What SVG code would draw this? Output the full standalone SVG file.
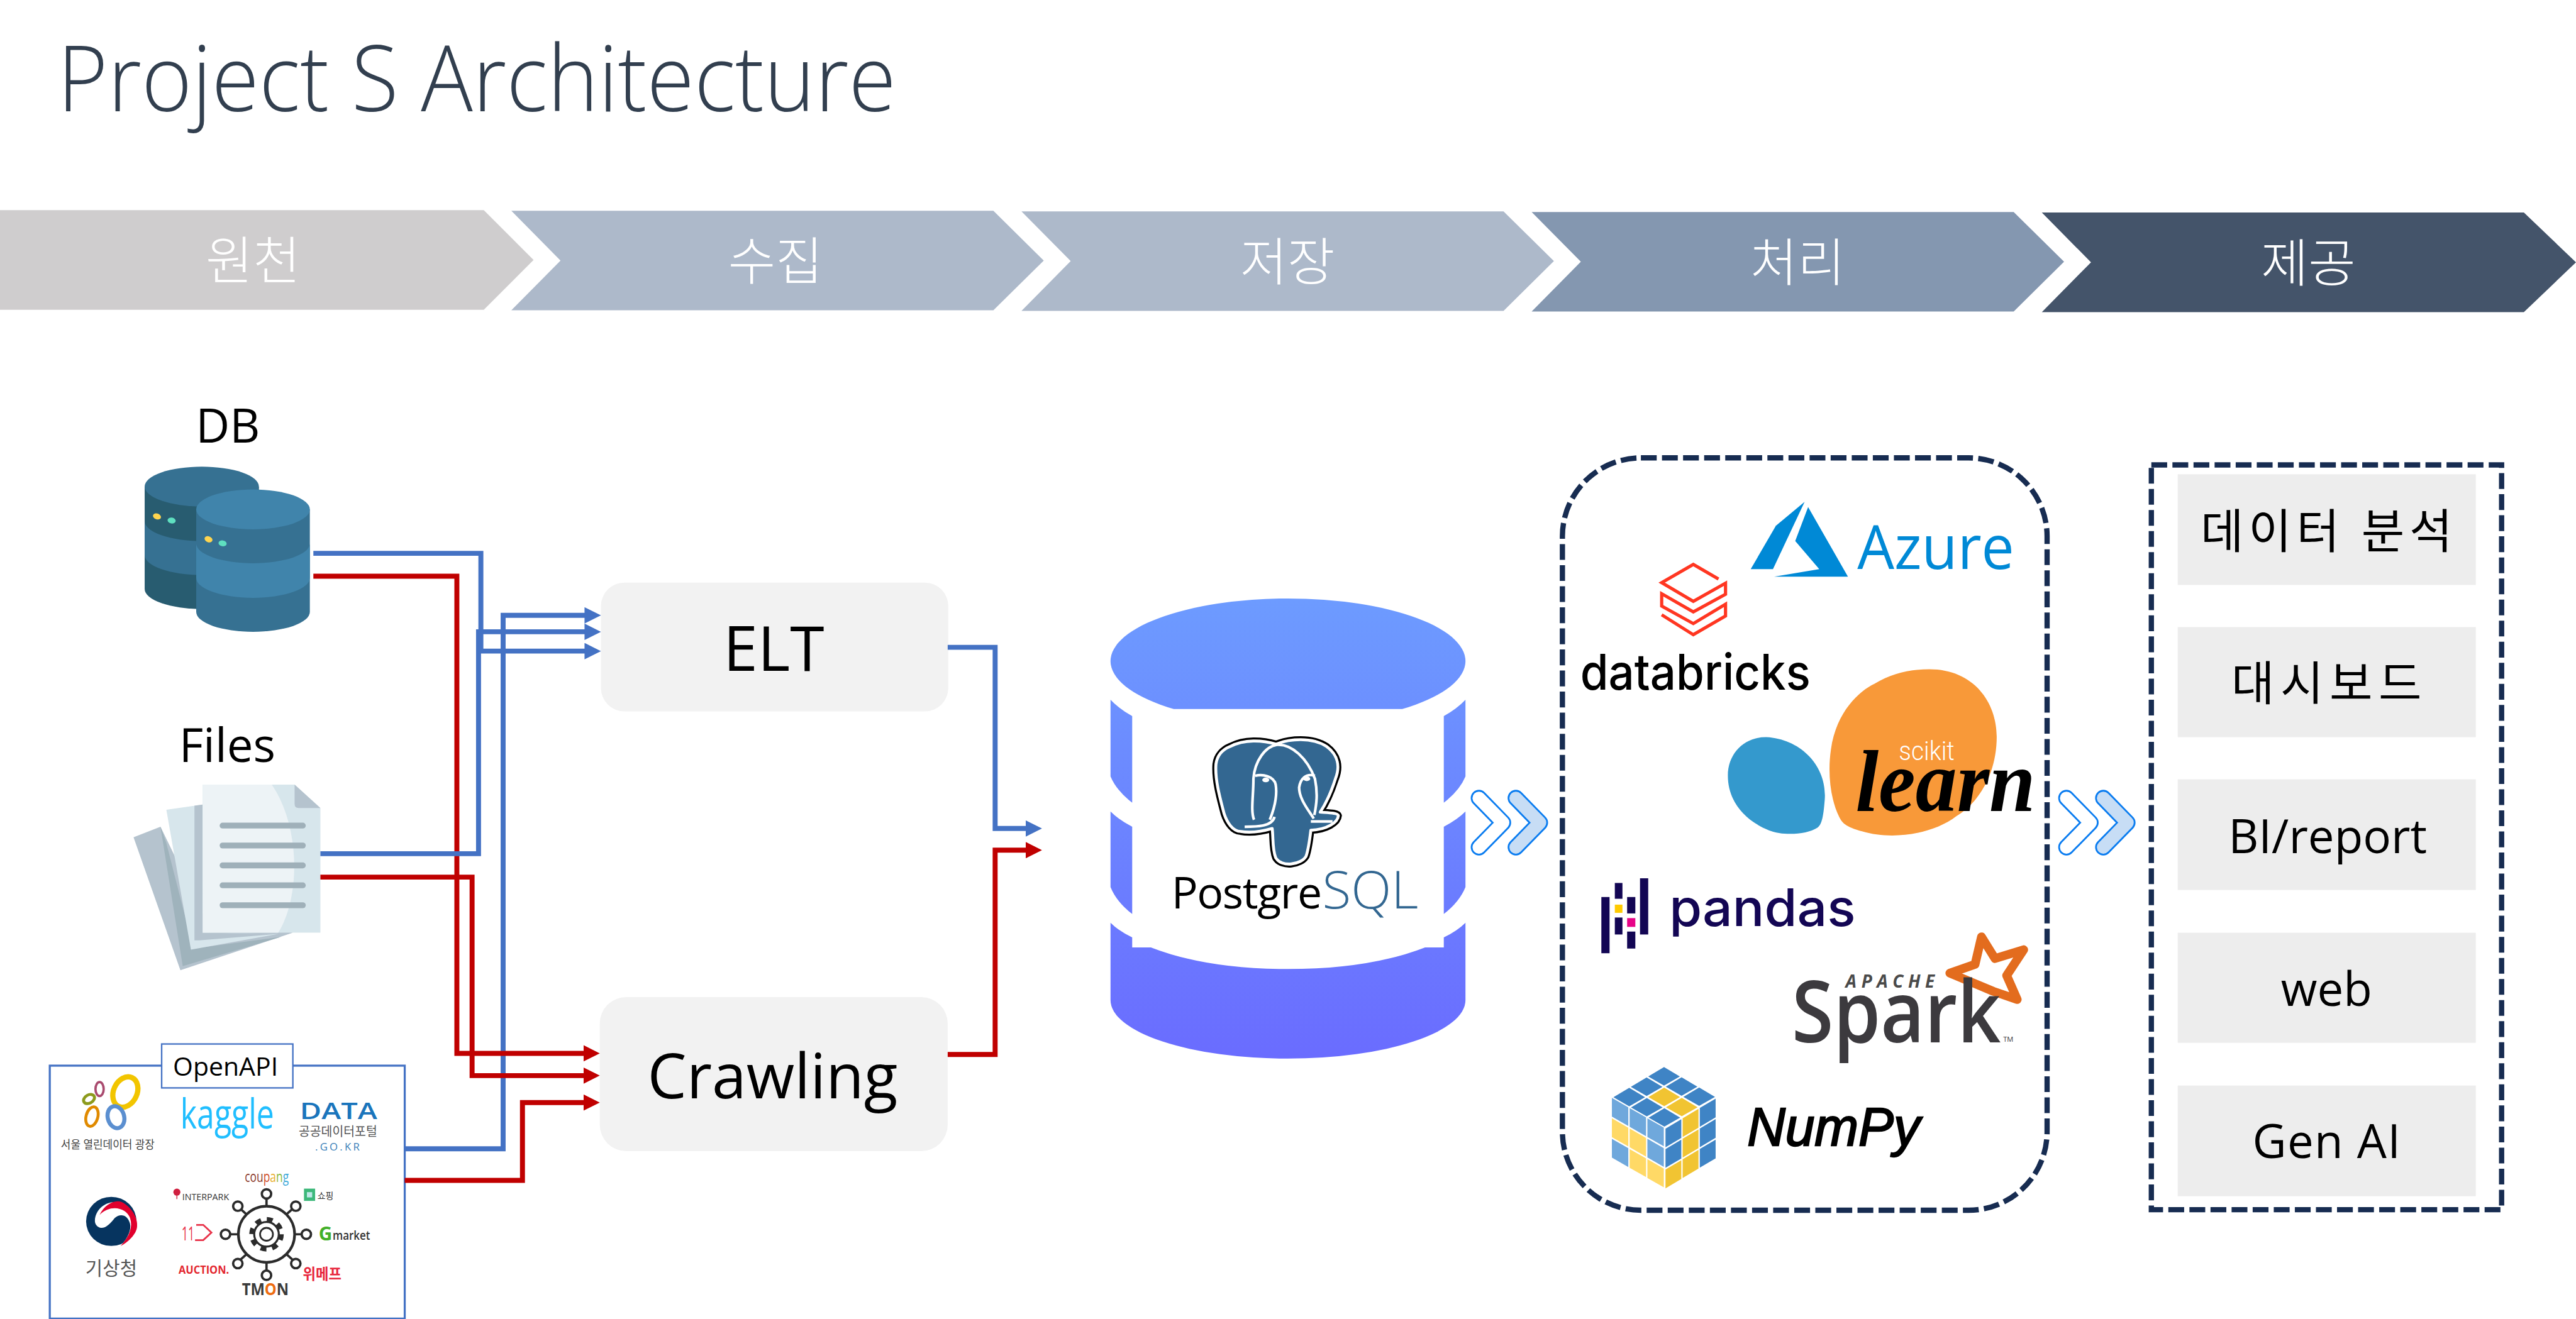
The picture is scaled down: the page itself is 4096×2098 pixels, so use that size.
<svg xmlns="http://www.w3.org/2000/svg" xmlns:xlink="http://www.w3.org/1999/xlink" width="4096" height="2098" viewBox="0 0 4096 2098">
<style>
text{font-family:"Open Sans","Noto Sans CJK KR",sans-serif;fill:#000}
.mid{text-anchor:middle}
.step{font-size:88px;font-weight:300;fill:#fff;text-anchor:middle;font-family:"Noto Sans CJK KR",sans-serif}
.src{font-size:80px;text-anchor:middle}
.proc{font-size:106px;text-anchor:middle}
.out{font-size:80px;text-anchor:middle}
.outbg{fill:#EDEDED}
.dash{fill:none;stroke:#172C51;stroke-width:9;stroke-dasharray:27 9}
.b{fill:none;stroke:#4472C4;stroke-width:8.5}
.r{fill:none;stroke:#C00000;stroke-width:8.5}
.bm{marker-end:url(#ab)}
.rm{marker-end:url(#ar)}
.tb{fill:#3F84C5}.ty{fill:#F1C432}.lb{fill:#6FA8DC}.ly{fill:#FFD966}
.pb{fill:#130654}
.ring{fill:#fff;stroke:#2B2B2B;stroke-width:4}
.spoke{stroke:#2B2B2B;stroke-width:4;fill:none}
</style>
<defs>
<marker id="ab" markerUnits="userSpaceOnUse" markerWidth="28" markerHeight="28" viewBox="0 0 28 28" refX="13" refY="14" orient="auto"><path d="M0,0 L28,14 L0,28 Z" fill="#4472C4"/></marker>
<marker id="ar" markerUnits="userSpaceOnUse" markerWidth="28" markerHeight="28" viewBox="0 0 28 28" refX="13" refY="14" orient="auto"><path d="M0,0 L28,14 L0,28 Z" fill="#C00000"/></marker>
<linearGradient id="cyl" gradientUnits="userSpaceOnUse" x1="0" y1="1022" x2="0" y2="1808"><stop offset="0" stop-color="#6D9BFF"/><stop offset="1" stop-color="#6A6CFF"/></linearGradient>
<g id="dbl">
<polyline points="2525,1363 2566,1405 2525,1447" fill="none" stroke="#0A7CF0" stroke-width="28" stroke-linecap="round" stroke-linejoin="round"/>
<polyline points="2525,1363 2566,1405 2525,1447" fill="none" stroke="#fff" stroke-width="22" stroke-linecap="round" stroke-linejoin="round"/>
<polyline points="2588,1363 2629,1405 2588,1447" fill="none" stroke="#0A7CF0" stroke-width="28" stroke-linecap="round" stroke-linejoin="round"/>
<polyline points="2588,1363 2629,1405 2588,1447" fill="none" stroke="#C7DDF5" stroke-width="22" stroke-linecap="round" stroke-linejoin="round"/>
</g>
<polygon id="tt" points="0,1.5 27,17.5 0,33 -27,17.5"/>
<polygon id="lt" points="0,0 28,16 28,48 0,32"/>
<polygon id="rt" points="0,0 27,-16 27,16 0,32"/>
<path id="eleph" d="M2100,1275 C2125,1262 2155,1264 2179,1271 C2200,1262 2240,1258 2265,1275 C2285,1290 2288,1310 2280,1330 C2272,1355 2262,1375 2254,1387 C2265,1388 2284,1388 2285,1393 C2284,1405 2265,1417 2238,1418 C2236,1435 2234,1450 2230,1462 C2222,1477 2188,1482 2178,1465 C2172,1450 2174,1430 2172,1415 C2155,1420 2135,1423 2118,1420 C2105,1420 2095,1405 2090,1390 C2082,1360 2074,1330 2076,1305 C2078,1290 2088,1280 2100,1275 Z"/>
</defs>
<rect width="4096" height="2098" fill="#fff"/>
<g transform="scale(0.93133)">

<text id="title" x="98" y="190" font-size="156" font-weight="300" textLength="1432" lengthAdjust="spacingAndGlyphs" style="fill:#323F4F">Project S Architecture</text>

<g id="step-source"><polygon points="0,359 826,359 911,444 826,529 0,529" fill="#CFCDCE"/><text class="step" x="432" y="477">원천</text></g>
<g id="step-collect"><polygon points="873,360 1696,360 1782,445 1696,530 873,530 957,445" fill="#ADB9CA"/><text class="step" x="1324" y="478">수집</text></g>
<g id="step-store"><polygon points="1744,361 2567,361 2653,446 2567,531 1744,531 1828,446" fill="#ADB9CA"/><text class="step" x="2198" y="479">저장</text></g>
<g id="step-process"><polygon points="2615,362 3438,362 3524,447 3438,532 2615,532 2699,447" fill="#8497B0"/><text class="step" x="3069" y="480">처리</text></g>
<g id="step-serve"><polygon points="3486,363 4309,363 4398,448 4309,533 3486,533 3570,448" fill="#44546A"/><text class="step" x="3941" y="481">제공</text></g>

<g id="node-db">
<text class="src" x="389" y="756">DB</text>
<path d="M247,831 V1006 A97.5,34 0 0 0 442,1006 V831 Z" fill="#285C70"/>
<path d="M247,890 A97.5,34 0 0 0 442,890 V948 A97.5,34 0 0 1 247,948 Z" fill="#367192"/>
<ellipse cx="344.500" cy="831" rx="97.500" ry="34" fill="#367192"/>
<ellipse cx="268" cy="882" rx="7" ry="5" fill="#FFD54F" transform="rotate(20 268 882)"/><ellipse cx="293" cy="889" rx="7" ry="5" fill="#5FE0C0" transform="rotate(10 293 889)"/>
<path d="M335,870 V1045 A97,34 0 0 0 529,1045 V870 Z" fill="#367192"/>
<path d="M335,928 A97,34 0 0 0 529,928 V987 A97,34 0 0 1 335,987 Z" fill="#4084AB"/>
<ellipse cx="432" cy="870" rx="97" ry="34" fill="#4084AB"/>
<ellipse cx="356" cy="921" rx="7" ry="5" fill="#FFD54F" transform="rotate(20 356 921)"/><ellipse cx="380" cy="928" rx="7" ry="5" fill="#5FE0C0" transform="rotate(10 380 928)"/>
</g>

<g id="node-files">
<text class="src" x="388" y="1301">Files</text>
<polygon points="228,1430 274,1412 346,1560 500,1593 308,1657" fill="#B5C3CE"/>
<polygon points="274,1412 284,1440 330,1620 480,1600 312,1650" fill="#9FB3BC"/>
<polygon points="284,1383 346,1374 346,1593 475,1595 326,1622" fill="#D7E6EC"/>
<polygon points="332,1376 346,1374 346,1593 475,1595 340,1606 332,1606" fill="#B5C3CE"/>
<path d="M346,1340 H503 L547,1380 V1593 H346 Z" fill="#D7E6EC"/>
<path d="M346,1340 H464 C512,1410 514,1530 475,1593 H346 Z" fill="#EDF3F6"/>
<path d="M503,1340 L547,1380 H510 Q503,1380 503,1373 Z" fill="#B5C3CE"/>
<g fill="#9FB0B9"><rect x="375" y="1405" width="147" height="10" rx="5"/><rect x="375" y="1439" width="147" height="10" rx="5"/><rect x="375" y="1473" width="147" height="10" rx="5"/><rect x="375" y="1507" width="147" height="10" rx="5"/><rect x="375" y="1541" width="147" height="10" rx="5"/></g>
</g>

<g id="node-openapi">
<rect x="85" y="1820" width="606" height="432" fill="#fff" stroke="#4472C4" stroke-width="3.500"/>
<rect x="276" y="1783" width="224" height="75" fill="#fff" stroke="#4472C4" stroke-width="2.500"/>
<text class="mid" x="385" y="1837" font-size="44">OpenAPI</text>
<g fill="none">
<ellipse cx="214" cy="1865" rx="20" ry="27" stroke="#F2C500" stroke-width="9" transform="rotate(25 214 1865)"/>
<ellipse cx="170" cy="1860" rx="7" ry="12" stroke="#A94A6E" stroke-width="4"/>
<ellipse cx="152" cy="1877" rx="10" ry="7" stroke="#8C9A1C" stroke-width="5" transform="rotate(-30 152 1877)"/>
<ellipse cx="157" cy="1907" rx="10" ry="17" stroke="#E08A00" stroke-width="5" transform="rotate(15 157 1907)"/>
<ellipse cx="198" cy="1908" rx="14" ry="19" stroke="#5B8FD0" stroke-width="7" transform="rotate(-15 198 1908)"/>
</g>
<text x="104" y="1962" font-size="19" textLength="160" lengthAdjust="spacingAndGlyphs" style="fill:#444">서울 열린데이터 광장</text>
<text x="308" y="1927" font-size="70" textLength="160" lengthAdjust="spacingAndGlyphs" style="fill:#20BEFF">kaggle</text>
<text x="512" y="1911" font-size="38" font-weight="600" textLength="132" lengthAdjust="spacingAndGlyphs" style="fill:#1A75BC">DATA</text>
<text x="510" y="1940" font-size="22" textLength="134" lengthAdjust="spacingAndGlyphs" style="fill:#555">공공데이터포털</text>
<text x="538" y="1965" font-size="18" textLength="76" style="fill:#3A7FB8">.GO.KR</text>
<ellipse cx="190" cy="2086" rx="43" ry="42" fill="#06345F"/>
<path d="M162,2085 C163,2060 190,2048 205,2055 C222,2063 233,2080 232,2095 C231,2108 218,2122 206,2128 C220,2112 224,2100 222,2090 C218,2074 205,2072 196,2080 C188,2090 180,2098 172,2097 C166,2096 162,2091 162,2085 Z" fill="#fff"/>
<path d="M170,2075 C178,2058 195,2048 208,2053 C224,2061 236,2080 234,2095 C233,2108 218,2122 206,2128 C222,2110 227,2095 222,2080 C216,2064 190,2055 170,2075 Z" fill="#E1002D"/>
<text class="mid" x="190" y="2177" font-size="32" style="fill:#555">기상청</text>
<circle cx="455" cy="2108" r="48" fill="none" stroke="#2B2B2B" stroke-width="4.500"/>
<circle cx="455" cy="2108" r="25" fill="none" stroke="#2B2B2B" stroke-width="9" stroke-dasharray="9.800 9.800"/>
<circle cx="455" cy="2108" r="21" fill="#fff" stroke="#2B2B2B" stroke-width="3.500"/>
<circle cx="455" cy="2108" r="11" fill="none" stroke="#2B2B2B" stroke-width="3"/>
<path class="spoke" d="M455,2060 V2047 M455,2156 V2170 M503,2108 H515 M407,2108 H393 M489,2074 L500,2064 M421,2074 L410,2064 M489,2142 L500,2152 M421,2142 L410,2152"/>
<circle class="ring" cx="455" cy="2039" r="8"/><circle class="ring" cx="455" cy="2178" r="8"/><circle class="ring" cx="523" cy="2108" r="8"/><circle class="ring" cx="385" cy="2108" r="8"/><circle class="ring" cx="505" cy="2060" r="8"/><circle class="ring" cx="406" cy="2060" r="8"/><circle class="ring" cx="505" cy="2158" r="8"/><circle class="ring" cx="406" cy="2158" r="8"/>
<text x="418" y="2019" font-size="25" textLength="75" lengthAdjust="spacingAndGlyphs"><tspan style="fill:#8B3A2B">cou</tspan><tspan style="fill:#D0502A">p</tspan><tspan style="fill:#E8B030">a</tspan><tspan style="fill:#8CB840">n</tspan><tspan style="fill:#3CA8D8">g</tspan></text>
<circle cx="302" cy="2036" r="6" fill="#D02040"/>
<path d="M302,2036 V2048" stroke="#D02040" stroke-width="1.500"/>
<text x="311" y="2050" font-size="15" textLength="80" lengthAdjust="spacingAndGlyphs" style="fill:#333">INTERPARK</text>
<rect x="519" y="2030" width="19" height="21" fill="#3DB87A"/><rect x="524" y="2036" width="9" height="9" fill="#BFE8E8"/>
<text x="542" y="2048" font-size="15" style="fill:#333">쇼핑</text>
<text x="310" y="2119" font-size="34" textLength="22" lengthAdjust="spacingAndGlyphs" style="fill:#E8334A">11</text>
<path d="M335,2092 H347 L361,2105 L347,2118 H333" fill="none" stroke="#E8334A" stroke-width="3"/>
<text x="544" y="2119" font-size="32" font-weight="700" style="fill:#43B02A">G</text>
<text x="568" y="2117" font-size="22" font-weight="600" textLength="64" lengthAdjust="spacingAndGlyphs" style="fill:#333">market</text>
<text x="305" y="2175" font-size="20" font-weight="700" textLength="86" lengthAdjust="spacingAndGlyphs" style="fill:#E3262E">AUCTION.</text>
<text x="517" y="2185" font-size="26" font-weight="700" textLength="66" lengthAdjust="spacingAndGlyphs" style="fill:#E8253B">위메프</text>
<text x="413" y="2212" font-size="28" font-weight="700" textLength="80" lengthAdjust="spacingAndGlyphs" style="fill:#3A3A3A">TM<tspan style="fill:#EE6C10">O</tspan>N</text>
</g>

<g id="node-elt"><rect x="1026" y="995" width="593" height="220" rx="40" fill="#F2F2F2"/><text class="proc" x="1321" y="1146">ELT</text></g>
<g id="node-crawling"><rect x="1024" y="1703" width="594" height="263" rx="45" fill="#F2F2F2"/><text class="proc" x="1319" y="1876">Crawling</text></g>

<g id="connectors">
<path class="b bm" d="M691,1962 H859 V1051 H1011"/>
<path class="r rm" d="M535,984 H780 V1799 H1009"/>
<path class="b bm" d="M547,1458 H817 V1079 H1011"/>
<path class="b bm" d="M535,945 H821 V1112 H1011"/>
<path class="r rm" d="M547,1498 H806 V1837 H1009"/>
<path class="r rm" d="M691,2016 H892 V1883 H1009"/>
<path class="b bm" d="M1618,1105.500 H1699 V1415 H1764"/>
<path class="r rm" d="M1618,1801 H1699 V1452 H1764"/>
</g>

<g id="node-postgres">
<g fill="url(#cyl)">
<path d="M2004,1211 A303,107 0 1 1 2394,1211 Z"/>
<path d="M1896,1195 V1326 Q1906,1350 1933,1371 V1223 Q1910,1210 1896,1195 Z"/>
<path d="M2502,1195 V1326 Q2492,1350 2465,1371 V1223 Q2488,1210 2502,1195 Z"/>
<path d="M1896,1386 V1515 Q1906,1540 1933,1561 V1412 Q1910,1400 1896,1386 Z"/>
<path d="M2502,1386 V1515 Q2492,1540 2465,1561 V1412 Q2488,1400 2502,1386 Z"/>
<path d="M1896,1576 Q1910,1590 1933,1601 V1618 H1965 Q2060,1655 2199,1655 Q2338,1655 2433,1618 H2465 V1601 Q2488,1590 2502,1576 V1708 A303,100 0 0 1 1896,1708 Z"/>
</g>
<use href="#eleph" fill="#000" stroke="#000" stroke-width="12" stroke-linejoin="round"/>
<use href="#eleph" fill="#336791" stroke="#fff" stroke-width="5" stroke-linejoin="round"/>
<g fill="none" stroke="#fff" stroke-width="4.500">
<path d="M2141,1400 C2135,1385 2140,1360 2140,1330 C2142,1300 2160,1275 2180,1272 C2205,1270 2232,1295 2245,1330 C2250,1355 2248,1372 2244,1392"/>
<path d="M2143,1325 C2155,1322 2175,1325 2178,1340 C2182,1365 2172,1390 2168,1400"/>
<path d="M2245,1325 C2230,1320 2220,1330 2218,1345 C2218,1365 2235,1385 2243,1398"/>
<path d="M2125,1412 C2145,1412 2172,1412 2176,1395 M2238,1403 H2275"/>
</g>
<ellipse cx="2161" cy="1332" rx="6" ry="4" fill="#fff"/><ellipse cx="2231" cy="1330" rx="6" ry="4" fill="#fff"/>
<text x="2000" y="1552" font-size="75" font-weight="400" letter-spacing="-1.500">Postgre<tspan font-size="90" font-weight="300" dx="2" letter-spacing="0" style="fill:#336791">SQL</tspan></text>
</g>

<use id="flow-1" xlink:href="#dbl" href="#dbl"/>
<use id="flow-2" xlink:href="#dbl" href="#dbl" x="1003"/>

<g id="node-processing">
<rect class="dash" x="2667.500" y="782" width="827.500" height="1285" rx="134" ry="134"/>
<g id="logo-azure">
<polygon points="3081,857 3032,898 2989,972 3027,972" fill="#0089D6"/>
<polygon points="3087,866 3065,924 3106,972 3029,985 3155,985" fill="#0089D6"/>
<text x="3171" y="972" font-size="104" font-weight="400" textLength="268" lengthAdjust="spacingAndGlyphs" style="fill:#0089D6">Azure</text>
</g>
<g id="logo-databricks">
<polyline points="2934,989 2891,964 2837,995 2891,1027 2946,996 2946,1015 2891,1045 2837,1014 2837,1035 2891,1065 2946,1032 2946,1052 2891,1084 2837,1050" fill="none" stroke="#FF3621" stroke-width="5.500"/>
<text x="2698" y="1178" font-size="84" font-weight="500" textLength="393" lengthAdjust="spacingAndGlyphs" style="font-family:Inter,sans-serif">databricks</text>
</g>
<g id="logo-scikit">
<path d="M3016,1259 C3075,1262 3122,1310 3115,1370 C3113,1395 3110,1410 3102,1414 C3085,1425 3045,1428 3020,1418 C2975,1400 2950,1365 2950,1325 C2950,1285 2980,1258 3016,1259 Z" fill="#3499CD"/>
<path d="M3294,1143 C3370,1143 3409,1200 3409,1258 C3409,1320 3380,1370 3340,1394 C3300,1425 3230,1435 3180,1420 C3150,1412 3145,1405 3140,1395 C3125,1365 3120,1320 3126,1280 C3135,1215 3175,1180 3200,1168 C3230,1150 3260,1143 3294,1143 Z" fill="#F89939"/>
<text x="3242" y="1298" font-size="46" font-weight="300" textLength="95" lengthAdjust="spacingAndGlyphs" style="fill:#fff;font-family:Roboto,sans-serif">scikit</text>
<text x="3168" y="1385" font-size="150" font-weight="700" font-style="italic" textLength="307" lengthAdjust="spacingAndGlyphs" style="font-family:'Liberation Serif',serif">learn</text>
</g>
<g id="logo-pandas">
<rect class="pb" x="2734" y="1532" width="14" height="96"/><rect class="pb" x="2757" y="1508" width="13" height="27"/><rect x="2757" y="1545" width="13" height="14" fill="#FFCA00"/><rect class="pb" x="2757" y="1567" width="13" height="29"/><rect class="pb" x="2778" y="1532" width="14" height="28"/><rect x="2778" y="1568" width="14" height="15" fill="#E70488"/><rect class="pb" x="2778" y="1591" width="14" height="29"/><rect class="pb" x="2800" y="1500" width="14" height="96"/>
<text x="2850" y="1582" font-size="88" font-weight="500" textLength="318" lengthAdjust="spacingAndGlyphs" style="fill:#130654;font-family:Inter,sans-serif">pandas</text>
</g>
<g id="logo-spark">
<path d="M3383,1600 L3406,1637 L3455,1622 L3426,1666 L3444,1707 L3403,1693 L3372,1680 L3329,1662 L3372,1647 Z" fill="none" stroke="#E36C1E" stroke-width="15" stroke-linejoin="round"/>
<text x="3151" y="1687" font-size="30" font-weight="700" font-style="italic" textLength="152" style="fill:#4A4A4A">APACHE</text>
<text x="3059" y="1780" font-size="146" font-weight="600" textLength="357" lengthAdjust="spacingAndGlyphs" style="fill:#3C3A3E">Spark</text>
<text x="3420" y="1779" font-size="12" style="fill:#3C3A3E">TM</text>
</g>
<g id="logo-numpy">
<use href="#tt" class="tb" x="2841" y="1821"/><use href="#tt" class="tb" x="2871" y="1838.400"/><use href="#tt" class="tb" x="2901" y="1855.800"/>
<use href="#tt" class="tb" x="2811.300" y="1838.700"/><use href="#tt" class="ty" x="2841.300" y="1856.100"/><use href="#tt" class="ty" x="2871.300" y="1873.500"/>
<use href="#tt" class="tb" x="2781.600" y="1856.400"/><use href="#tt" class="tb" x="2811.600" y="1873.800"/><use href="#tt" class="tb" x="2841.600" y="1891.200"/>
<use href="#lt" class="lb" x="2752" y="1875"/><use href="#lt" class="ly" x="2752" y="1910"/><use href="#lt" class="lb" x="2752" y="1945"/>
<use href="#lt" class="lb" x="2782.300" y="1892.400"/><use href="#lt" class="ly" x="2782.300" y="1927.400"/><use href="#lt" class="ly" x="2782.300" y="1962.400"/>
<use href="#lt" class="lb" x="2812.600" y="1909.800"/><use href="#lt" class="lb" x="2812.600" y="1944.800"/><use href="#lt" class="ly" x="2812.600" y="1979.800"/>
<use href="#rt" class="tb" x="2843.500" y="1927.500"/><use href="#rt" class="tb" x="2843.500" y="1962.500"/><use href="#rt" class="ty" x="2843.500" y="1997.500"/>
<use href="#rt" class="ty" x="2872.800" y="1909.900"/><use href="#rt" class="ty" x="2872.800" y="1944.900"/><use href="#rt" class="ty" x="2872.800" y="1979.900"/>
<use href="#rt" class="tb" x="2902.100" y="1892.300"/><use href="#rt" class="tb" x="2902.100" y="1927.300"/><use href="#rt" class="tb" x="2902.100" y="1962.300"/>
<text x="2983" y="1956" font-size="92" font-style="italic" textLength="295" lengthAdjust="spacingAndGlyphs" stroke="#000" stroke-width="2.500" style="font-family:'Liberation Sans',sans-serif">NumPy</text>
</g>
</g>

<g id="node-serving">
<rect class="dash" x="3673" y="794" width="598" height="1272"/>
<g id="out-analysis"><rect class="outbg" x="3718" y="810" width="509" height="189"/><text class="out" x="3972" y="936" font-size="88" textLength="430">데이터 분석</text></g>
<g id="out-dashboard"><rect class="outbg" x="3718" y="1071" width="509" height="188"/><text class="out" x="3972" y="1196" font-size="88" textLength="325">대시보드</text></g>
<g id="out-bi"><rect class="outbg" x="3718" y="1331" width="509" height="189"/><text class="out" x="3974" y="1457">BI/report</text></g>
<g id="out-web"><rect class="outbg" x="3718" y="1593" width="509" height="188"/><text class="out" x="3972" y="1718">web</text></g>
<g id="out-genai"><rect class="outbg" x="3718" y="1854" width="509" height="189"/><text class="out" x="3972" y="1978" textLength="253">Gen AI</text></g>
</g>

</g>
</svg>
